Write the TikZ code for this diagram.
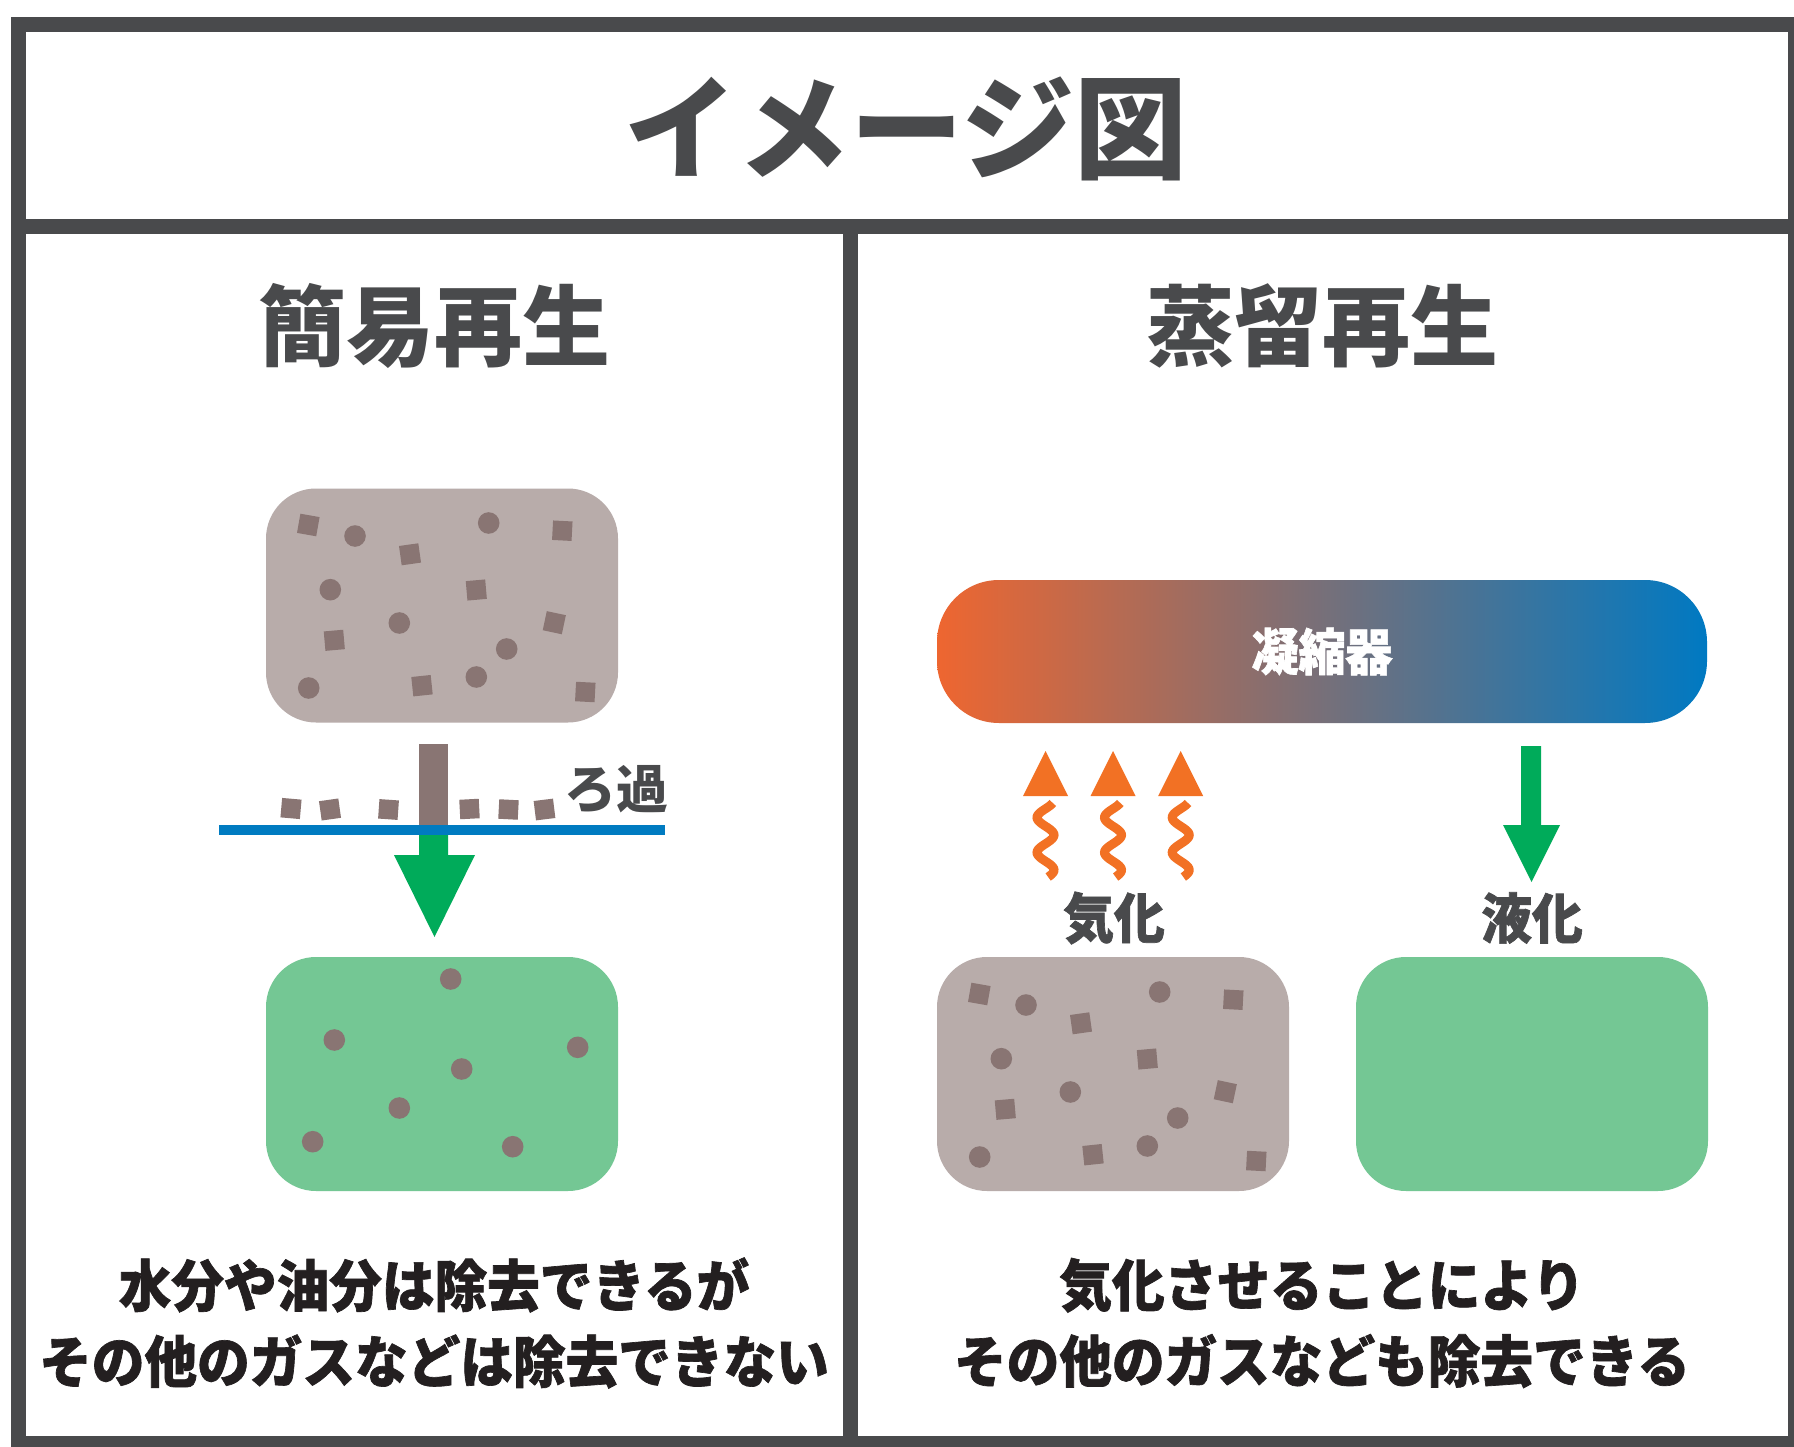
\documentclass[tikz,border=0pt]{standalone}
\usepackage{fontspec}
\newfontfamily\jp{Noto Sans CJK JP}
\newfontfamily\jpheavy{Noto Sans CJK JP}[FakeStretch=0.94, UprightFeatures={FakeBold=1.2}, BoldFeatures={FakeBold=1.2}]
\definecolor{framegray}{RGB}{73,74,76}
\definecolor{txtblack}{RGB}{35,31,32}
\definecolor{boxgray}{RGB}{184,172,170}
\definecolor{dotbrown}{RGB}{137,117,115}
\definecolor{boxgreen}{RGB}{116,199,148}
\definecolor{arrgreen}{RGB}{0,171,90}
\definecolor{filterblue}{RGB}{0,123,193}
\definecolor{heatorange}{RGB}{242,113,36}
\definecolor{condL}{RGB}{238,102,48}
\definecolor{condR}{RGB}{0,121,194}
\newcommand{\dsq}[3]{\fill[dotbrown, rotate around={#3:(#1,#2)}] (#1-9.75,#2-9.75) rectangle (#1+9.75,#2+9.75);}
\newcommand{\dci}[2]{\fill[dotbrown] (#1,#2) circle (10.8);}
\newcommand{\dirtpattern}{%
  \dsq{42.3}{37}{-10}\dsq{144}{66.3}{8}\dsq{296.3}{42.7}{-3}\dsq{210.3}{102}{5}
  \dsq{288.3}{134.7}{-12}\dsq{68.3}{152.3}{5}\dsq{156}{197.7}{6}\dsq{319.3}{204}{-3}
  \dci{89}{48}\dci{222.7}{35}\dci{64.3}{101.7}\dci{133.3}{135}
  \dci{240.7}{161}\dci{210.3}{189}\dci{42.7}{200}}
\begin{document}
\begin{tikzpicture}[x=1pt,y=-1pt,
  tank/.style={rounded corners=50pt, minimum width=352pt, minimum height=234pt, inner sep=0pt, draw=none},
  lbl/.style={font=\jp\bfseries, inner sep=0pt, text=framegray},
  body/.style={font=\jpheavy\bfseries\fontsize{56}{76}\selectfont, inner sep=0pt, text=txtblack, align=center},
  wave/.style={heatorange, line width=9pt},
]
\useasboundingbox (0,0) rectangle (1794,1447);
\clip (0,0) rectangle (1794,1447);
\fill[white] (0,0) rectangle (1794,1447);
% frame
\draw[framegray, line width=15pt] (18.5,24.5) rectangle (1795.5,1443.5);
\draw[framegray, line width=15pt] (11,226.5) -- (1794,226.5);
\draw[framegray, line width=15pt] (850,226.5) -- (850,1447);
% titles
\node[lbl, font=\jp\bfseries\fontsize{113}{120}\selectfont] (title) at (906,129) {イメージ図};
\node[lbl, font=\jp\bfseries\fontsize{88}{96}\selectfont] (simple) at (434,326) {簡易再生};
\node[lbl, font=\jp\bfseries\fontsize{88}{96}\selectfont] (distill) at (1322,326) {蒸留再生};
% left panel
\node[tank, fill=boxgray] (dirtyL) at (442,605.5) {};
\begin{scope}[shift={(266,488)}]\dirtpattern\end{scope}
\fill[dotbrown] (419,744) rectangle (448,830);
\fill[arrgreen] (419,829) -- (448,829) -- (448,855) -- (475,855) -- (434.5,937) -- (394,855) -- (419,855) -- cycle;
\dsq{291}{808.5}{-5}\dsq{330}{809.5}{8}\dsq{388.5}{809.5}{-4}\dsq{469.5}{809}{3}\dsq{508.5}{809.5}{-3}\dsq{544.5}{809.5}{7}
\fill[filterblue] (219,825) rectangle (665,835);
\node[lbl, font=\jp\bfseries\fontsize{52}{60}\selectfont] (filt) at (616,789) {ろ過};
\node[tank, fill=boxgreen] (cleanL) at (442,1074) {};
\begin{scope}[shift={(266,957)}]
  \dci{184.7}{22}\dci{68.3}{83}\dci{311.7}{90.3}\dci{195.7}{112}\dci{133.3}{151}\dci{46.7}{184.7}\dci{246.7}{189.7}
\end{scope}
\node[body] (txtL) at (434,1323) {水分や油分は除去できるが\\その他のガスなどは除去できない};
% right panel
\node[rounded corners=62pt, minimum width=770pt, minimum height=143pt, inner sep=0pt, left color=condL, right color=condR, draw=none, text=white, font=\jpheavy\bfseries\fontsize{50}{56}\selectfont] (cond) at (1322,651.5) {凝縮器};
\foreach \cx in {1045.5,1113,1180.7}{
  \fill[heatorange] (\cx-22.5,796) -- (\cx+22.5,796) -- (\cx,751) -- cycle;
  \draw[wave] plot[variable=\t, domain=3:77, samples=61] ({\cx+8.5*cos(10.2857*\t)}, {800+\t});
}
\fill[arrgreen] (1521,746) -- (1541,746) -- (1541,825) -- (1560,825) -- (1531.5,882) -- (1503,825) -- (1521,825) -- cycle;
\node[lbl, font=\jpheavy\bfseries\fontsize{54}{60}\selectfont] (vap) at (1114,918) {気化};
\node[lbl, font=\jpheavy\bfseries\fontsize{54}{60}\selectfont] (liq) at (1532,918) {液化};
\node[tank, fill=boxgray] (dirtyR) at (1113,1074) {};
\begin{scope}[shift={(937,957)}]\dirtpattern\end{scope}
\node[tank, fill=boxgreen] (cleanR) at (1532,1074) {};
\node[body] (txtR) at (1322,1323) {気化させることにより\\その他のガスなども除去できる};
\end{tikzpicture}
\end{document}
